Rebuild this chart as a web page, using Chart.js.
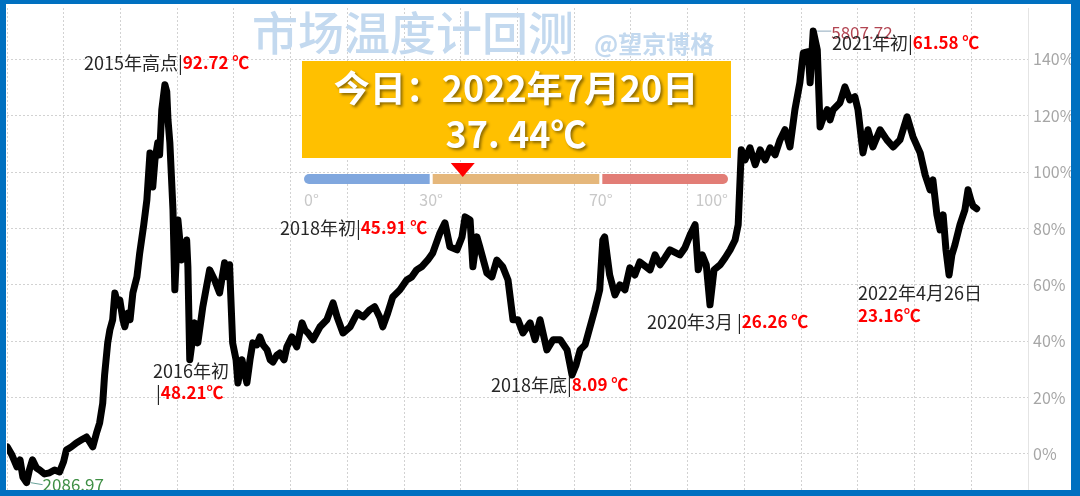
<!DOCTYPE html>
<html>
<head>
<meta charset="utf-8">
<script src="https://cdn.jsdelivr.net/npm/chart.js@4.4.0/dist/chart.umd.min.js"></script>
<style>
html, body { margin: 0; padding: 0; background: #fff; }
#wrap { width: 1080px; height: 496px; position: relative; }
</style>
</head>
<body>
<div id="wrap"><canvas id="c" width="1080" height="496"></canvas></div>
<script>
// 沪深300 相对 2014 年初涨幅 (%)
const dates = [
  '2014-01-02','2014-01-17','2014-02-02','2014-02-12','2014-02-21','2014-03-05','2014-03-14','2014-03-24','2014-04-06','2014-04-16',
  '2014-05-02','2014-05-18','2014-06-03','2014-06-19','2014-07-02','2014-07-11','2014-07-27','2014-08-12','2014-08-29','2014-09-14',
  '2014-10-04','2014-10-17','2014-10-26','2014-11-05','2014-11-11','2014-11-21','2014-11-28','2014-12-07','2014-12-14','2014-12-24','2014-12-30',
  '2015-01-09','2015-01-15','2015-01-25','2015-02-01','2015-02-10','2015-02-23','2015-03-04','2015-03-17','2015-03-27','2015-04-06',
  '2015-04-15','2015-04-22','2015-05-01','2015-05-07','2015-05-14','2015-05-24','2015-05-30','2015-06-03','2015-06-09','2015-06-19',
  '2015-06-25','2015-07-05','2015-07-17','2015-08-02','2015-08-06','2015-08-12','2015-08-28','2015-09-07','2015-09-23','2015-10-06',
  '2015-10-15','2015-10-31','2015-11-16','2015-12-02','2015-12-12','2015-12-18','2015-12-28',
  '2016-01-08','2016-01-14','2016-01-27','2016-02-06','2016-02-12','2016-02-22','2016-03-02','2016-03-15','2016-03-25','2016-04-04',
  '2016-04-17','2016-04-27','2016-05-06','2016-05-19','2016-05-28','2016-06-11','2016-06-20','2016-07-06','2016-07-22','2016-08-08',
  '2016-08-17','2016-08-27','2016-09-12','2016-10-05','2016-10-27','2016-11-16','2016-11-29','2016-12-18',
  '2017-01-10','2017-02-02','2017-02-21','2017-03-14','2017-03-30','2017-04-16','2017-04-25','2017-05-11','2017-05-27','2017-06-19',
  '2017-07-11','2017-07-27','2017-08-12','2017-08-28','2017-09-17','2017-10-03','2017-10-26','2017-11-11','2017-11-27','2017-12-20',
  '2018-01-05','2018-01-15','2018-01-31','2018-02-09','2018-02-22','2018-03-03','2018-03-26','2018-04-11','2018-04-27','2018-05-16',
  '2018-06-02','2018-06-18','2018-07-04','2018-07-20','2018-08-12','2018-08-28','2018-09-13','2018-10-05','2018-10-25','2018-11-17',
  '2018-12-09','2018-12-25',
  '2019-01-07','2019-01-20','2019-02-05','2019-03-08','2019-03-24','2019-04-03','2019-04-09','2019-04-25','2019-05-12','2019-05-28',
  '2019-06-13','2019-06-29','2019-07-15','2019-07-31','2019-09-02','2019-09-18','2019-10-04','2019-10-20','2019-11-05','2019-12-07',
  '2019-12-23',
  '2020-01-09','2020-01-25','2020-02-04','2020-02-17','2020-03-01','2020-03-13','2020-03-26','2020-04-15','2020-05-01','2020-05-17',
  '2020-06-02','2020-06-12','2020-06-22','2020-07-04','2020-07-20','2020-08-06','2020-08-22','2020-09-07','2020-09-23','2020-10-09',
  '2020-10-25','2020-11-10','2020-11-26','2020-12-12','2020-12-28',
  '2021-01-08','2021-01-24','2021-01-30','2021-02-09','2021-02-22','2021-03-03','2021-03-13','2021-03-26','2021-04-04','2021-04-14',
  '2021-05-06','2021-05-22','2021-06-07','2021-06-23','2021-07-03','2021-07-19','2021-08-04','2021-08-20','2021-09-12','2021-10-04',
  '2021-10-24','2021-11-15','2021-12-08','2021-12-27',
  '2022-01-19','2022-02-04','2022-02-20','2022-03-01','2022-03-14','2022-03-24','2022-04-03','2022-04-12','2022-04-22','2022-05-01',
  '2022-05-11','2022-05-27','2022-06-12','2022-06-22','2022-07-01','2022-07-08','2022-07-20'
];
const values = [
  2.5, -0.4, -4.6, -2.1, -8.2, -10.2, -5.7, -2.1, -5.0, -5.7,
  -7.1, -6.7, -5.7, -6.4, -2.8, 1.4, 2.5, 3.9, 5.0, 6.0,
  2.5, 7.8, 11.0, 18.0, 28.0, 39.4, 44.0, 47.6, 57.1, 52.9, 54.6,
  47.6, 45.1, 50.0, 47.6, 57.1, 62.8, 71.3, 81.3, 90.1, 106.8,
  94.7, 104.3, 110.4, 106.1, 122.1, 131.0, 128.5, 118.5, 110.4, 86.6,
  58.2, 83.0, 68.8, 75.9, 66.4, 33.4, 46.5, 39.4, 52.2, 60.0,
  65.3, 61.7, 57.1, 67.8, 62.8, 67.1, 39.4,
  33.4, 25.2, 33.4, 28.0, 25.2, 33.4, 39.4, 38.7, 41.5, 38.7,
  36.9, 33.4, 32.6, 35.1, 35.8, 33.4, 38.0, 41.5, 38.0, 46.5,
  44.0, 42.9, 40.5, 45.1, 47.6, 53.6, 48.6, 42.9,
  45.1, 50.0, 48.6, 51.1, 52.2, 48.3, 45.1, 50.0, 55.7, 58.2,
  61.7, 62.8, 65.3, 66.4, 68.8, 71.3, 78.4, 82.0, 73.5, 72.4,
  77.0, 84.1, 83.0, 66.4, 77.0, 73.5, 64.2, 62.8, 68.8, 66.4,
  61.7, 47.6, 47.6, 42.9, 46.5, 40.5, 47.6, 36.9, 40.5, 40.5,
  36.9, 28.0,
  31.6, 36.9, 38.7, 51.1, 58.2, 75.9, 77.0, 63.5, 56.4, 60.0,
  58.2, 66.0, 63.5, 68.1, 65.3, 70.6, 67.1, 69.6, 72.4, 70.6,
  73.1,
  77.7, 81.3, 65.3, 70.6, 67.1, 52.9, 65.3, 67.1, 69.6, 72.4,
  75.9, 81.3, 107.9, 104.3, 108.6, 102.6, 107.9, 104.3, 108.6, 106.1,
  111.4, 115.0, 108.9, 122.1, 131.7,
  142.3, 142.7, 131.7, 150.0, 143.4, 116.0, 119.2, 122.1, 118.5, 122.1,
  124.6, 130.2, 125.6, 126.7, 122.1, 106.8, 115.0, 108.9, 115.0, 111.4,
  108.9, 111.4, 119.6, 112.5,
  106.8, 99.0, 93.7, 97.2, 84.8, 79.5, 84.8, 72.4, 63.5, 70.6,
  74.2, 81.3, 86.6, 93.7, 90.1, 88.0, 87.0
];
const yTicks = [0, 20, 40, 60, 80, 100, 120, 140];
const xGrid = [2014, 2014.5, 2015, 2015.5, 2016, 2016.5, 2017, 2017.5, 2018, 2018.5,
               2019, 2019.5, 2020, 2020.5, 2021, 2021.5, 2022, 2022.5, 2023];
const maxLabel = '5807.72';
const minLabel = '2086.97';
const gaugeStops = [0, 30, 70, 100];
const gaugeColors = ['#80a7de', '#e5b77b', '#e27d76'];
const todayValue = 37.44;
const todayText = '今日：2022年7月20日';
const todayTemp = '37. 44℃';

const FONT = '"Noto Sans CJK SC", "Noto Sans", sans-serif';

function toYear(s) {
  const [y, m, d] = s.split('-').map(Number);
  const t = Date.UTC(y, m - 1, d), a = Date.UTC(y, 0, 1), b = Date.UTC(y + 1, 0, 1);
  return y + (t - a) / (b - a);
}

// 文本片段依次绘制
function run(ctx, x, y, parts) {
  ctx.textBaseline = 'middle';
  ctx.textAlign = 'left';
  parts.forEach(p => {
    ctx.font = (p.b ? 'bold ' : '') + (p.s || (p.b ? 17 : 18)) + 'px ' + FONT;
    ctx.fillStyle = p.c || '#262626';
    ctx.fillText(p.t, x, y);
    x += ctx.measureText(p.t).width;
  });
}

const overlay = {
  id: 'overlay',
  afterDraw(chart) {
    const ctx = chart.ctx;
    const xs = chart.scales.x, ys = chart.scales.y;
    ctx.save();

    // 标题
    ctx.textBaseline = 'middle';
    ctx.fillStyle = '#c3d9ef';
    ctx.font = '500 46px ' + FONT;
    ctx.fillText('市场温度计回测', 252, 33);
    ctx.font = 'bold 24px ' + FONT;
    ctx.fillText('@望京博格', 594, 44);

    // 最高/最低点
    let iMax = 0, iMin = 0;
    values.forEach((v, i) => { if (v > values[iMax]) iMax = i; if (v < values[iMin]) iMin = i; });
    const pxM = xs.getPixelForValue(toYear(dates[iMax])), pyM = ys.getPixelForValue(values[iMax]);
    ctx.strokeStyle = '#8fa9bd'; ctx.lineWidth = 1;
    ctx.beginPath(); ctx.moveTo(pxM + 4, pyM); ctx.lineTo(pxM + 18, pyM); ctx.stroke();
    run(ctx, pxM + 18, pyM + 1, [{ t: maxLabel, c: '#b24552', s: 17 }]);
    const pxm = xs.getPixelForValue(toYear(dates[iMin])), pym = ys.getPixelForValue(values[iMin]);
    ctx.strokeStyle = '#6aa39a';
    ctx.beginPath(); ctx.moveTo(pxm + 4, pym); ctx.lineTo(pxm + 16, pym + 2); ctx.stroke();
    run(ctx, pxm + 16, pym + 2, [{ t: minLabel, c: '#3f8f45', s: 17 }]);

    // 标注
    const R = '#ff0000';
    run(ctx, 84, 63, [{ t: '2015年高点|' }, { t: '92.72 ℃', c: R, b: 1 }]);
    run(ctx, 280, 228, [{ t: '2018年初|' }, { t: '45.91 ℃', c: R, b: 1 }]);
    run(ctx, 153, 371, [{ t: '2016年初' }]);
    run(ctx, 156, 393, [{ t: '|' }, { t: '48.21℃', c: R, b: 1 }]);
    run(ctx, 491, 385, [{ t: '2018年底|' }, { t: '8.09 ℃', c: R, b: 1 }]);
    run(ctx, 647, 322, [{ t: '2020年3月 |' }, { t: '26.26 ℃', c: R, b: 1 }]);
    run(ctx, 858, 293, [{ t: '2022年4月26日' }]);
    run(ctx, 858, 316, [{ t: '23.16℃', c: R, b: 1 }]);
    run(ctx, 832, 43, [{ t: '2021年初|' }, { t: '61.58 ℃', c: R, b: 1 }]);

    // 今日温度框
    ctx.fillStyle = '#ffc000';
    ctx.fillRect(302, 61, 429, 97);
    ctx.shadowColor = 'rgba(0,0,0,0.45)';
    ctx.shadowOffsetX = 2; ctx.shadowOffsetY = 2; ctx.shadowBlur = 3;
    ctx.fillStyle = '#ffffff';
    ctx.textAlign = 'center';
    ctx.font = 'bold 36px ' + FONT;
    ctx.fillText(todayText, 516, 88);
    ctx.fillText(todayTemp, 516, 134);
    ctx.shadowColor = 'transparent';

    // 温度条
    const g0 = 304, g1 = 728, gy = 179, gh = 10;
    const gx = v => g0 + (g1 - g0) * v / 100;
    for (let i = 0; i < 3; i++) {
      let a = gx(gaugeStops[i]) + (i ? 1.5 : 0), b = gx(gaugeStops[i + 1]) - (i < 2 ? 1.5 : 0);
      ctx.fillStyle = gaugeColors[i];
      ctx.beginPath();
      if (i === 0) { ctx.arc(a + gh / 2, gy, gh / 2, Math.PI / 2, Math.PI * 1.5); ctx.lineTo(b, gy - gh / 2); ctx.lineTo(b, gy + gh / 2); }
      else if (i === 2) { ctx.moveTo(a, gy - gh / 2); ctx.lineTo(b - gh / 2, gy - gh / 2); ctx.arc(b - gh / 2, gy, gh / 2, -Math.PI / 2, Math.PI / 2); ctx.lineTo(a, gy + gh / 2); }
      else { ctx.rect(a, gy - gh / 2, b - a, gh); }
      ctx.closePath(); ctx.fill();
    }
    const tx = gx(todayValue);
    ctx.fillStyle = '#ff0000';
    ctx.beginPath(); ctx.moveTo(tx - 12, 163); ctx.lineTo(tx + 12, 163); ctx.lineTo(tx, 177); ctx.closePath(); ctx.fill();
    ctx.fillStyle = '#c8c8c8';
    ctx.font = '16px ' + FONT;
    ctx.textBaseline = 'middle';
    gaugeStops.forEach((v, i) => {
      ctx.textAlign = i === 0 ? 'left' : (i === gaugeStops.length - 1 ? 'right' : 'center');
      ctx.fillText(v + '°', gx(v), 200);
    });

    // 蓝色边框
    ctx.fillStyle = '#0070c0';
    ctx.fillRect(0, 0, 1080, 4);
    ctx.fillRect(0, 490, 1080, 6);
    ctx.fillRect(0, 0, 6, 496);
    ctx.fillRect(1071, 0, 9, 496);
    ctx.restore();
  }
};

new Chart(document.getElementById('c'), {
  type: 'line',
  data: {
    datasets: [{
      data: dates.map((d, i) => ({ x: toYear(d), y: values[i] })),
      borderColor: '#000000',
      borderWidth: 7,
      pointRadius: 0,
      tension: 0,
      borderJoinStyle: 'round',
      borderCapStyle: 'round'
    }]
  },
  options: {
    responsive: false,
    animation: false,
    devicePixelRatio: 1,
    layout: { padding: { left: 7, top: 8, right: 0, bottom: 6 } },
    plugins: { legend: { display: false }, tooltip: { enabled: false } },
    scales: {
      x: {
        type: 'linear', min: 2014, max: 2023,
        afterBuildTicks: a => { a.ticks = xGrid.map(v => ({ value: v })); },
        afterFit: s => { s.height = 0; s.paddingLeft = 0; s.paddingRight = 0; },
        ticks: { display: false },
        grid: { color: '#d2d2d2', lineWidth: 1, drawTicks: false },
        border: { display: false, dash: [2, 2] }
      },
      y: {
        position: 'right', min: -12.8, max: 158.2,
        afterBuildTicks: a => { a.ticks = yTicks.map(v => ({ value: v })); },
        afterFit: s => { s.width = 52; s.paddingTop = 0; s.paddingBottom = 0; },
        ticks: { color: '#a6a6a6', padding: 5, font: { size: 16, family: FONT }, callback: v => v + '%' },
        grid: { color: '#d2d2d2', lineWidth: 1, drawTicks: false },
        border: { display: true, color: '#e4e4e4', dash: [2, 2] }
      }
    }
  },
  plugins: [overlay]
});
</script>
</body>
</html>
